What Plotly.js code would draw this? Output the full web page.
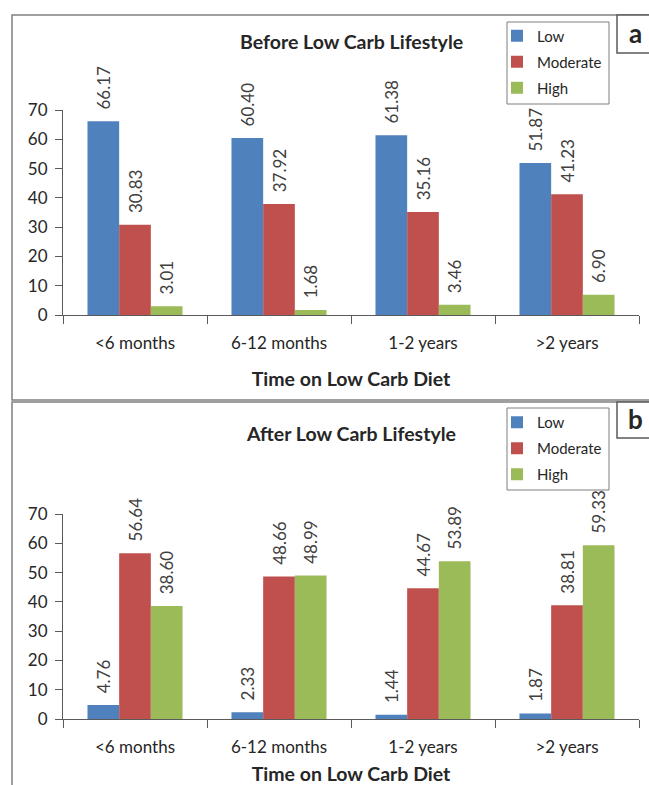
<!DOCTYPE html>
<html>
<head>
<meta charset="utf-8">
<script src="https://cdn.plot.ly/plotly-3.0.1.min.js"></script>
<style>
html,body{margin:0;padding:0;background:#fff;}
#chart{width:649px;height:785px;}
</style>
</head>
<body>
<div id="chart"></div>
<script>
var categories = ['<6 months', '6-12 months', '1-2 years', '>2 years'];
var seriesNames = ['Low', 'Moderate', 'High'];
var colors = ['#4F81BD', '#C0504D', '#9BBB59'];

var beforeLow = [66.17, 60.40, 61.38, 51.87];
var beforeModerate = [30.83, 37.92, 35.16, 41.23];
var beforeHigh = [3.01, 1.68, 3.46, 6.90];

var afterLow = [4.76, 2.33, 1.44, 1.87];
var afterModerate = [56.64, 48.66, 44.67, 38.81];
var afterHigh = [38.60, 48.99, 53.89, 59.33];

var yTicks = [0, 10, 20, 30, 40, 50, 60, 70];

var FONT = 'Lato, "Open Sans", sans-serif';
var TXT = '#262626';
var AX = '#5a5a5a';
var W = 649, H = 785;
function px(x){return x / W;}
function py(y){return 1 - y / H;}

function makeTrace(vals, i, xa, ya, leg){
  return {
    type: 'bar',
    x: categories,
    y: vals,
    name: seriesNames[i],
    legendgroup: leg + seriesNames[i],
    legend: leg,
    xaxis: xa,
    yaxis: ya,
    marker: {color: colors[i], line: {width: 0}},
    texttemplate: '\u00A0\u00A0%{y:.2f}',
    textposition: 'outside',
    textangle: -90,
    constraintext: 'none',
    cliponaxis: false,
    textfont: {family: FONT, size: 17, color: '#404040'},
    hoverinfo: 'skip'
  };
}

var data = [
  makeTrace(beforeLow, 0, 'x', 'y', 'legend'),
  makeTrace(beforeModerate, 1, 'x', 'y', 'legend'),
  makeTrace(beforeHigh, 2, 'x', 'y', 'legend'),
  makeTrace(afterLow, 0, 'x2', 'y2', 'legend2'),
  makeTrace(afterModerate, 1, 'x2', 'y2', 'legend2'),
  makeTrace(afterHigh, 2, 'x2', 'y2', 'legend2')
];

function xAxis(anchor){
  return {
    type: 'category',
    domain: [px(63), px(639)],
    anchor: anchor,
    range: [-0.5, 3.5],
    showline: true, linecolor: AX, linewidth: 1,
    ticks: 'outside', tickson: 'boundaries', ticklen: 8, tickcolor: AX, tickwidth: 1,
    ticklabelstandoff: 13,
    showgrid: false, zeroline: false,
    tickfont: {family: FONT, size: 17, color: TXT},
    title: {text: '<b>Time on Low Carb Diet</b>', font: {family: FONT, size: 19.5, color: TXT}, standoff: 19},
    fixedrange: true
  };
}
function yAxis(anchor, dom){
  return {
    domain: dom,
    anchor: anchor,
    range: [0, 70],
    tickvals: yTicks,
    showline: true, linecolor: AX, linewidth: 1,
    ticks: 'outside', ticklen: 7, tickcolor: AX, tickwidth: 1,
    ticklabelstandoff: 4,
    showgrid: false, zeroline: false,
    tickfont: {family: FONT, size: 17, color: TXT},
    fixedrange: true
  };
}

function legendCfg(top){
  return {
    x: px(497), y: py(top), xanchor: 'left', yanchor: 'top',
    borderwidth: 0, bgcolor: 'rgba(0,0,0,0)',
    font: {family: FONT, size: 15, color: TXT},
    traceorder: 'grouped', tracegroupgap: 3.5,
    itemclick: false, itemdoubleclick: false
  };
}

var layout = {
  width: W, height: H,
  margin: {l: 0, r: 0, t: 0, b: 0},
  paper_bgcolor: '#fff', plot_bgcolor: 'rgba(0,0,0,0)',
  barmode: 'group', bargap: 0.34, bargroupgap: 0,
  font: {family: FONT},
  showlegend: true,
  legend: legendCfg(19.5),
  legend2: legendCfg(406),
  xaxis: xAxis('y'),
  yaxis: yAxis('x', [py(315), py(110)]),
  xaxis2: xAxis('y2'),
  yaxis2: yAxis('x2', [py(719), py(514)]),
  shapes: [
    {type: 'rect', xref: 'paper', yref: 'paper', x0: px(12), x1: px(720), y0: py(400), y1: py(15), line: {color: '#808080', width: 1.5}, fillcolor: 'rgba(0,0,0,0)', layer: 'below'},
    {type: 'rect', xref: 'paper', yref: 'paper', x0: px(12), x1: px(720), y0: py(820), y1: py(402), line: {color: '#808080', width: 1.5}, fillcolor: 'rgba(0,0,0,0)', layer: 'below'},
    {type: 'rect', xref: 'paper', yref: 'paper', x0: px(617), x1: px(720), y0: py(53), y1: py(15), line: {color: '#595959', width: 1.5}, fillcolor: '#fff'},
    {type: 'rect', xref: 'paper', yref: 'paper', x0: px(617), x1: px(720), y0: py(438), y1: py(402), line: {color: '#595959', width: 1.5}, fillcolor: '#fff'},
    {type: 'rect', xref: 'paper', yref: 'paper', x0: px(507), x1: px(609), y0: py(104), y1: py(22), line: {color: '#7f7f7f', width: 1}, fillcolor: '#fff'},
    {type: 'rect', xref: 'paper', yref: 'paper', x0: px(507), x1: px(609), y0: py(490), y1: py(408), line: {color: '#7f7f7f', width: 1}, fillcolor: '#fff'}
  ],
  annotations: [
    {xref: 'paper', yref: 'paper', x: px(351), y: py(42), xanchor: 'center', yanchor: 'middle', showarrow: false,
     text: '<b>Before Low Carb Lifestyle</b>', font: {family: FONT, size: 19.5, color: TXT}},
    {xref: 'paper', yref: 'paper', x: px(351), y: py(433), xanchor: 'center', yanchor: 'middle', showarrow: false,
     text: '<b>After Low Carb Lifestyle</b>', font: {family: FONT, size: 19.5, color: TXT}},
    {xref: 'paper', yref: 'paper', x: px(635), y: py(33), xanchor: 'center', yanchor: 'middle', showarrow: false,
     text: '<b>a</b>', font: {family: FONT, size: 26, color: TXT}},
    {xref: 'paper', yref: 'paper', x: px(635), y: py(419), xanchor: 'center', yanchor: 'middle', showarrow: false,
     text: '<b>b</b>', font: {family: FONT, size: 26, color: TXT}}
  ]
};

Plotly.newPlot('chart', data, layout, {displayModeBar: false, staticPlot: true});
</script>
</body>
</html>
